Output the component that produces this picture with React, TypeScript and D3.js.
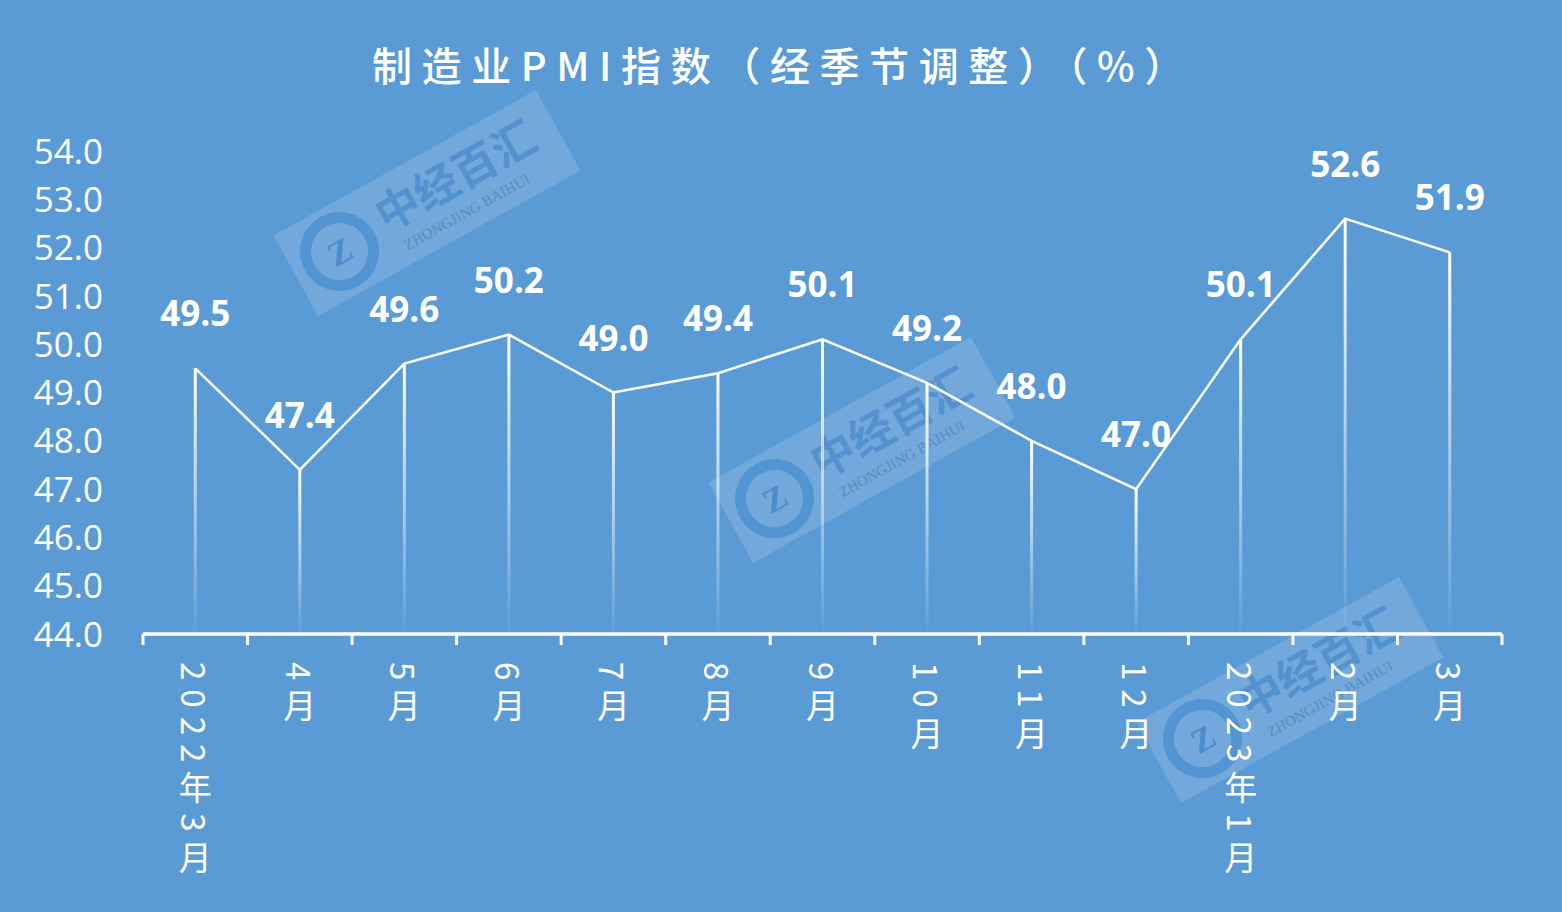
import React from "react";
import * as d3 from "d3";

const categories = ["2022年3月", "4月", "5月", "6月", "7月", "8月", "9月", "10月", "11月", "12月", "2023年1月", "2月", "3月"];
const values = [49.5, 47.4, 49.6, 50.2, 49.0, 49.4, 50.1, 49.2, 48.0, 47.0, 50.1, 52.6, 51.9];
const yTicks = [44, 45, 46, 47, 48, 49, 50, 51, 52, 53, 54];
const title = "制造业PMI指数（经季节调整）（%）";

const W = 1562, H = 912;
const BG = "#5b9bd5";

function Watermark({ cx, cy }: { cx: number; cy: number }) {
  return (
    <g transform={`translate(${cx},${cy}) rotate(-29)`} opacity={0.9}>
      <rect x={-150} y={-46} width={300} height={92} fill="#ffffff" opacity={0.16} />
      <circle cx={-100} cy={0} r={34} fill="none" stroke="#4a90d0" strokeWidth={11} opacity={0.8} />
      <text x={-100} y={12} textAnchor="middle" fontSize={34} fontWeight={700} fill="#4a8ccc" fontFamily="Liberation Serif">Z</text>
      <text x={-50} y={6} fontSize={44} fontWeight={700} fill="#4a8acb" opacity={0.75} fontFamily="'Noto Sans CJK SC'">中经百汇</text>
      <text x={-40} y={32} fontSize={15} fill="#4a86c4" opacity={0.8} fontFamily="'Liberation Serif'">ZHONGJING BAIHUI</text>
    </g>
  );
}

export default function App() {
  const x = d3.scaleBand<string>().domain(categories).range([143, 1502]);
  const y = d3.scaleLinear().domain([44, 54]).range([634, 151]);
  const line = d3
    .line<number>()
    .x((_, i) => (x(categories[i]) as number) + x.bandwidth() / 2)
    .y((d) => y(d));
  const bounds = categories.map((c) => x(c) as number).concat([1502]);

  return (
    <svg width={W} height={H} style={{ position: "absolute", left: 0, top: 0, display: "block" }}>
      <defs>
        <linearGradient id="drop" x1="0" y1="0" x2="0" y2="1">
          <stop offset="0%" stopColor="#ffffff" stopOpacity={1} />
          <stop offset="100%" stopColor="#ffffff" stopOpacity={0.03} />
        </linearGradient>
      </defs>
      <rect x={0} y={0} width={W} height={H} fill={BG} />

      <Watermark cx={427} cy={203} />
      <Watermark cx={862} cy={450} />
      <Watermark cx={1290} cy={690} />

      <text
        x={372}
        y={81}
        fontSize={40}
        fontWeight={500}
        fill="#ffffff"
        fontFamily="'Noto Sans CJK SC', sans-serif"
        letterSpacing={9.6}
      >
        {title}
      </text>

      {yTicks.map((t) => (
        <text
          key={t}
          x={103}
          y={y(t)}
          dy="0.36em"
          textAnchor="end"
          fontSize={35}
          fill="#ffffff"
          fontFamily="'Open Sans', sans-serif"
        >
          {t.toFixed(1)}
        </text>
      ))}

      {values.map((v, i) => {
        const cx = (x(categories[i]) as number) + x.bandwidth() / 2;
        return (
          <rect
            key={"d" + i}
            x={cx - 1.5}
            y={y(v)}
            width={3}
            height={y(44) - y(v)}
            fill="url(#drop)"
          />
        );
      })}

      <path d={line(values) || ""} fill="none" stroke="#ffffff" strokeWidth={2.5} strokeLinejoin="miter" />

      <line x1={143} x2={1502} y1={y(44)} y2={y(44)} stroke="#ffffff" strokeWidth={3.5} />
      {bounds.map((b, i) => (
        <line key={"t" + i} x1={b} x2={b} y1={y(44)} y2={y(44) + 11} stroke="#ffffff" strokeWidth={3} />
      ))}

      {values.map((v, i) => {
        const cx = (x(categories[i]) as number) + x.bandwidth() / 2;
        return (
          <text
            key={"l" + i}
            x={cx}
            y={y(v) - 42}
            textAnchor="middle"
            fontSize={35}
            fontWeight={700}
            fill="#ffffff"
            fontFamily="'Open Sans', sans-serif"
          >
            {v.toFixed(1)}
          </text>
        );
      })}

      {categories.map((c, i) => {
        const cx = (x(c) as number) + x.bandwidth() / 2;
        return (
          <text
            key={"x" + i}
            x={cx}
            y={662}
            fontSize={33}
            fill="#ffffff"
            fontFamily="'Noto Sans CJK SC', sans-serif"
            letterSpacing={9}
            style={{ writingMode: "vertical-rl" as any }}
          >
            {c}
          </text>
        );
      })}
    </svg>
  );
}
